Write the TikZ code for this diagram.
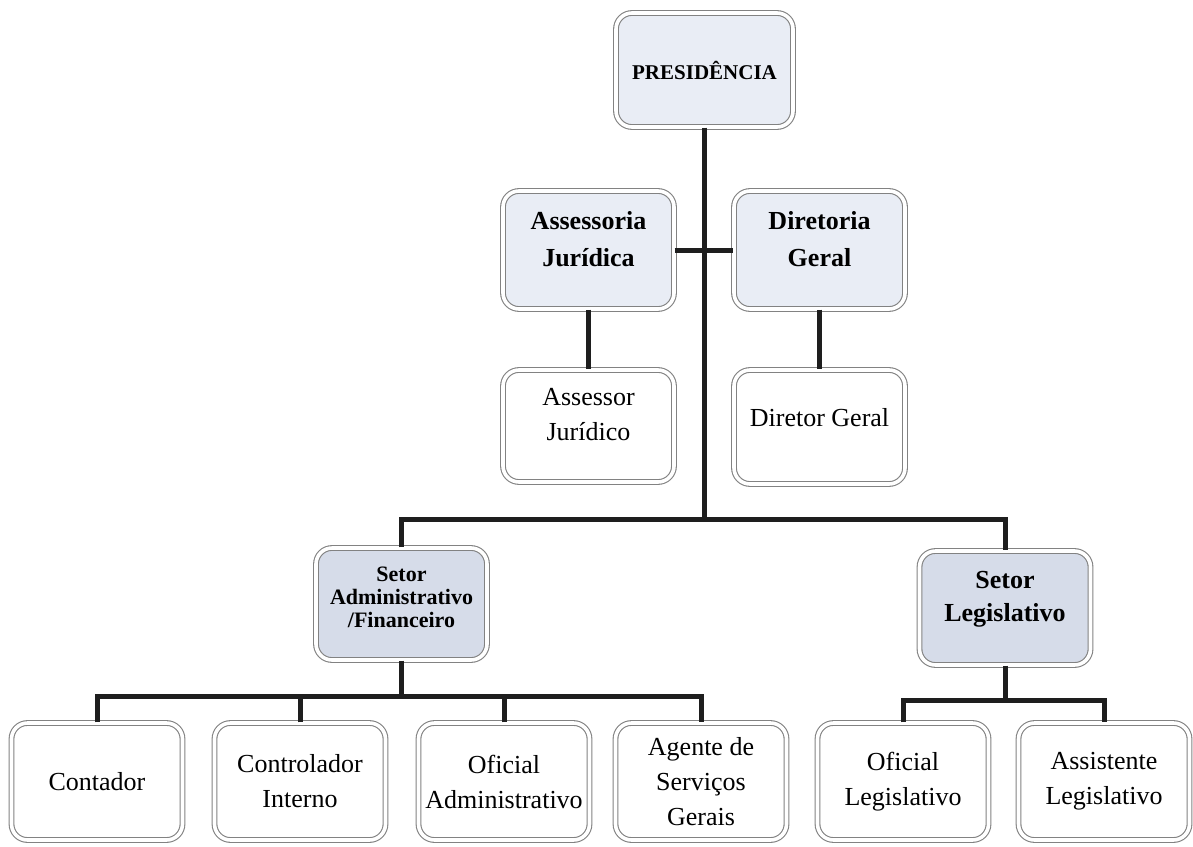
\documentclass[tikz,border=0pt]{standalone}
\usepackage{fontspec}
\setmainfont{Liberation Serif}
\usetikzlibrary{positioning}
\definecolor{azul}{RGB}{233,237,245}
\definecolor{setorfill}{RGB}{214,220,233}
\definecolor{borda}{RGB}{130,130,130}
\definecolor{linha}{RGB}{30,30,30}
% empty last line to lift the text inside a box
\newcommand{\subir}[1]{\\[#1]\mbox{}}

\begin{document}
\begin{tikzpicture}[x=0.5pt, y=-0.5pt, on grid,
    box/.style = {draw=borda, double=white, double distance=1.8pt, line width=0.55pt,
                  rounded corners=8pt, align=center, inner sep=0pt, fill=white,
                  minimum width=85.5pt, minimum height=57pt,
                  font=\fontsize{13}{17.5}\selectfont},
    chefe/.style = {box, fill=azul, font=\fontsize{13}{18.5}\selectfont\bfseries},
    setor/.style = {box, fill=setorfill, font=\fontsize{13}{16.5}\selectfont\bfseries},
    link/.style = {draw=linha, line width=2.5pt}]

\useasboundingbox (0,0) rectangle (1193,846);

% presidencia e assessorias
\node [chefe, minimum width=88.5pt, font=\fontsize{10.5}{12}\selectfont\bfseries] (pres) at (704.5,70) {PRESIDÊNCIA};
\node [chefe, minimum height=59pt] (aj) [below left=90pt and 58pt of pres] {Assessoria\\Jurídica\subir{-7.5pt}};
\node [chefe, minimum height=59pt] (dg) [right=115.5pt of aj] {Diretoria\\Geral\subir{-7.5pt}};
\node [box, minimum height=56pt] (ajs) [below=88pt of aj] {Assessor\\Jurídico\subir{-5.5pt}};
\node [box] (dgs) [below=88.5pt of dg] {Diretor Geral\subir{-7.5pt}};

% setores
\node [setor, minimum height=56pt, font=\fontsize{11}{11.5}\selectfont\bfseries] (sadm) at (401.5,604) {Setor\\Administrativo\\/Financeiro\subir{-5pt}};
\node [setor] (sleg) at (1005,608) {Setor\\Legislativo\subir{-4.5pt}};

% cargos
\node [box, minimum height=58.5pt] (cont) at (97,781.5) {Contador};
\node [box, minimum height=58.5pt] (ctrl) [right=101.5pt of cont] {Controlador\\Interno};
\node [box, minimum height=58.5pt] (ofa) [right=102pt of ctrl] {Oficial\\Administrativo};
\node [box, minimum height=58.5pt] (ags) [right=98.5pt of ofa] {Agente de\\Serviços\\Gerais};
\node [box, minimum height=58.5pt] (ofl) at (903,781.5) {Oficial\\Legislativo};
\node [box, minimum height=58.5pt] (asl) [right=100.5pt of ofl] {Assistente\\Legislativo};

\coordinate (jtopo) at (704.5,519);
\coordinate (jadm) at (401.5,696);
\coordinate (jleg) at (1005,700);

\draw[link] (pres.south) -- (jtopo);
\draw[link] (aj.east) -- (dg.west);
\draw[link] (aj.south) -- (ajs.north);
\draw[link] (dg.south) -- (dgs.north);
\draw[link] (sadm.north) |- (jtopo) -| (sleg.north);

\draw[link] (sadm.south) -- (jadm);
\draw[link] (cont.north) |- (jadm) -| (ags.north);
\foreach \n in {ctrl,ofa}
    \draw[link] (\n.north) -- (\n.north |- jadm);

\draw[link] (sleg.south) -- (jleg);
\draw[link] (ofl.north) |- (jleg) -| (asl.north);
\end{tikzpicture}
\end{document}
